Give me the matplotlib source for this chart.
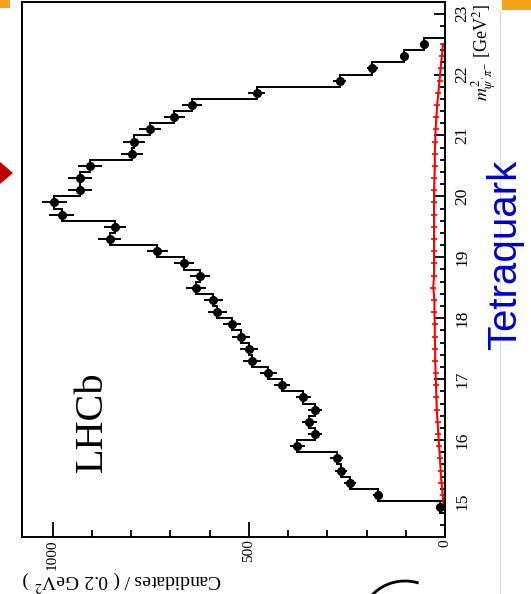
import numpy as np
import matplotlib
matplotlib.use('Agg')
import matplotlib.pyplot as plt
import matplotlib.patches as patches
from matplotlib.ticker import MultipleLocator

plt.rcParams['font.family'] = ['Liberation Serif', 'DejaVu Serif']
plt.rcParams['mathtext.fontset'] = 'stix'

# m^2(psi' pi-) bins, 0.2 GeV^2 wide
edges = np.round(np.arange(14.8, 22.61, 0.2), 1)
centers = 0.5 * (edges[:-1] + edges[1:])

# candidates per bin (data)
counts = [12, 170, 242, 265, 276, 376, 331, 346, 331, 361,
          415, 450, 492, 499, 520, 543, 580, 590, 635, 624,
          665, 733, 855, 841, 977, 996, 930, 930, 904, 797,
          792, 752, 690, 645, 480, 268, 185, 104, 53]

# background component
bkg = [3, 6, 9, 11, 13, 15, 17, 19, 21, 22,
       23, 24, 25, 25, 26, 26, 27, 27, 30, 28,
       28, 28, 28, 28, 28, 28, 28, 27, 26, 26,
       25, 24, 22, 20, 17, 14, 11, 8, 5]

counts = np.array(counts, dtype=float)
bkg = np.array(bkg, dtype=float)
errs = np.sqrt(counts)

W, H = 531, 594
fig = plt.figure(figsize=(W / 100, H / 100), dpi=100)
ax = fig.add_axes([22 / W, 1 - 537 / H, (445 - 22) / W, 535 / H])

# chart is shown rotated: mass runs upward, candidates run leftward
ax.stairs(counts, edges, orientation='horizontal', baseline=0, color='black', lw=1.4)
ax.errorbar(counts, centers, xerr=errs, fmt='o', color='black', ms=5.5,
            elinewidth=1.4, capsize=0)
ax.plot(bkg, centers, color='red', lw=1.5, marker='_', ms=5, mew=1.2)

ax.set_xlim(1078, 0)
ax.set_ylim(14.41, 23.19)

ax.yaxis.tick_right()
ax.xaxis.set_major_locator(MultipleLocator(500))
ax.xaxis.set_minor_locator(MultipleLocator(100))
ax.yaxis.set_major_locator(MultipleLocator(1))
ax.yaxis.set_minor_locator(MultipleLocator(0.2))
ax.tick_params(axis='x', which='major', direction='in', length=10.5, width=1.3, pad=1.5, labelsize=11)
ax.tick_params(axis='x', which='minor', direction='in', length=5, width=1.3)
ax.tick_params(axis='y', which='major', direction='in', length=8, width=1.3, pad=7, labelsize=12.5)
ax.tick_params(axis='y', which='minor', direction='in', length=3.6, width=1.3)
ax.tick_params(left=False, top=False, which='both')
for lab in ax.get_xticklabels():
    lab.set_rotation(90)
for lab in ax.get_yticklabels():
    lab.set_rotation(90)
    lab.set_va('center')
for s in ax.spines.values():
    s.set_linewidth(1.4)

fig.text(22 / W, 1 - 593 / H, r'Candidates / ( 0.2 GeV$^{2}$ )', rotation=180,
         ha='left', va='bottom', fontsize=14)
fig.text(484 / W, 1 - 4 / H, r"$m^{2}_{\psi'\pi^{-}}$ [GeV$^{2}$]", rotation=90,
         ha='center', va='top', fontsize=13)
fig.text(92 / W, 1 - 422 / H, 'LHCb', rotation=90, ha='center', va='center', fontsize=29)

# slide decorations around the figure
fig.add_artist(plt.Line2D([500 / W, 500 / W], [0, 1 - 10 / H], color='#dddddd', lw=1))
fig.text(505 / W, 1 - 255 / H, 'Tetraquark', rotation=90, ha='center', va='center',
         fontsize=29, color='#0000cc', family=['Liberation Sans', 'DejaVu Sans'])
fig.add_artist(patches.Rectangle((502 / W, 1 - 10 / H), 29 / W, 10 / H,
                                 transform=fig.transFigure, color='#f5a31a', lw=0))
fig.add_artist(patches.Rectangle((0, 1 - 8 / H), 10 / W, 8 / H,
                                 transform=fig.transFigure, color='#f5a31a', lw=0))
fig.add_artist(patches.Polygon([(0, 1 - 162 / H), (13 / W, 1 - 173 / H), (0, 1 - 184 / H)],
                               closed=True, transform=fig.transFigure, color='#c00000', lw=0))
fig.add_artist(patches.Arc((405 / W, 1 - 625 / H), 90 / W, 88 / H, theta1=70, theta2=170,
                           transform=fig.transFigure, color='black', lw=2))

fig.savefig('out.png', dpi=100)
